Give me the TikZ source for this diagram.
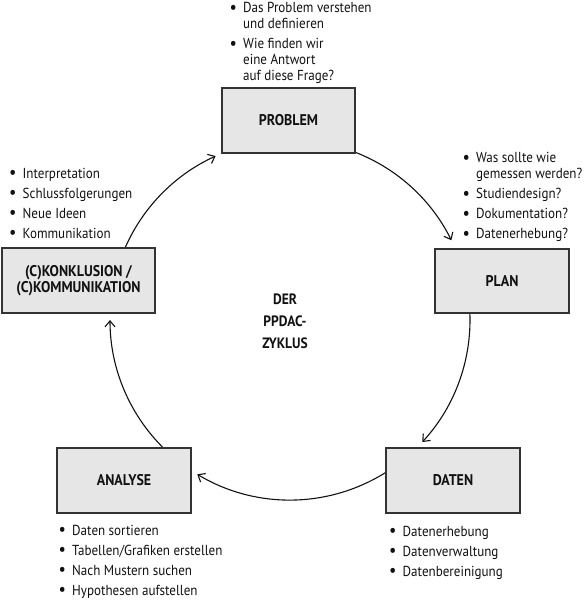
\documentclass[tikz,border=0pt]{standalone}
\usepackage{fontspec}
\setmainfont[FakeStretch=0.9]{PT Sans}
\usetikzlibrary{arrows.meta}
\definecolor{boxfill}{HTML}{E6E6E6}
\definecolor{boxline}{HTML}{333333}
\definecolor{ink}{HTML}{111111}
\newcommand\bitem[1]{\makebox[13.5pt][l]{\raisebox{-0.5pt}{\scalebox{1.25}{\textbullet}}}#1}
\newcommand\bcont[1]{\hspace*{13.5pt}#1}
\begin{document}
\begin{tikzpicture}[x=1pt,y=1pt,
  stage/.style={draw=boxline, fill=boxfill, line width=1.2pt, text=ink,
    font=\fontsize{15.5}{16}\selectfont\bfseries, align=center, inner sep=0pt},
  blist/.style={anchor=base west, inner sep=0pt, text=ink, font=\fontsize{14.5}{16}\selectfont},
  cyc/.style={draw=ink, line width=1.1pt, -{Straight Barb[length=6pt,width=10pt]}}]
\useasboundingbox (0,0) rectangle (584,-600);
\coordinate (O) at (290,-320);
\coordinate (a1) at ([shift={(158:180pt)}]O);
\coordinate (a2) at ([shift={(70:180pt)}]O);
\coordinate (a3) at ([shift={(4:180pt)}]O);
\coordinate (a4) at ([shift={(-56:180pt)}]O);
\coordinate (a5) at ([shift={(-133:180pt)}]O);
% cycle arcs
\draw[cyc] (a1) arc[start angle=158, end angle=114.4, radius=180pt];
\draw[cyc] (a2) arc[start angle=70, end angle=26.3, radius=180pt];
\draw[cyc] (a3) arc[start angle=4, end angle=-42.7, radius=180pt];
\draw[cyc] (a4) arc[start angle=-56, end angle=-121, radius=180pt];
\draw[cyc] (a5) arc[start angle=-133, end angle=-180, radius=180pt];
% stage boxes
\node[stage, minimum width=133pt, minimum height=65pt] (problem) at (288.5,-120.5) {PROBLEM};
\node[stage, minimum width=134pt, minimum height=64pt] (plan) at (502,-281) {PLAN};
\node[stage, minimum width=134pt, minimum height=65pt] (daten) at (453,-480.5) {DATEN};
\node[stage, minimum width=134pt, minimum height=65pt] (analyse) at (124,-480.5) {ANALYSE};
\node[stage, minimum width=153pt, minimum height=65pt] (konkl) at (78.5,-280.5) {(C)KONKLUSION /\\(C)KOMMUNIKATION};
% centre title
\node[anchor=base, inner sep=0pt, text=ink, font=\fontsize{15}{16}\selectfont\bfseries] (title) at (285,-304)
  {\begin{tabular}[t]{@{}c@{}}DER\\[6.5pt]PPDAC-\\[6pt]ZYKLUS\end{tabular}};
% lists
\node[blist] (lproblem) at (229.5,-12.7) {\begin{tabular}[t]{@{}l@{}}
  \bitem{Das Problem verstehen}\\ \bcont{und definieren}\\[4pt]
  \bitem{Wie finden wir}\\ \bcont{eine Antwort}\\ \bcont{auf diese Frage?}\end{tabular}};
\node[blist] (lplan) at (462.5,-162.5) {\begin{tabular}[t]{@{}l@{}}
  \bitem{Was sollte wie}\\ \bcont{gemessen werden?}\\[4pt]
  \bitem{Studiendesign?}\\[4pt] \bitem{Dokumentation?}\\[4pt] \bitem{Datenerhebung?}\end{tabular}};
\node[blist] (lkonkl) at (9,-178) {\begin{tabular}[t]{@{}l@{}}
  \bitem{Interpretation}\\[4pt] \bitem{Schlussfolgerungen}\\[4pt]
  \bitem{Neue Ideen}\\[4pt] \bitem{Kommunikation}\end{tabular}};
\node[blist] (lanalyse) at (58.5,-535) {\begin{tabular}[t]{@{}l@{}}
  \bitem{Daten sortieren}\\[4pt] \bitem{Tabellen/Grafiken erstellen}\\[4pt]
  \bitem{Nach Mustern suchen}\\[4pt] \bitem{Hypothesen aufstellen}\end{tabular}};
\node[blist] (ldaten) at (389,-536) {\begin{tabular}[t]{@{}l@{}}
  \bitem{Datenerhebung}\\[4pt] \bitem{Datenverwaltung}\\[4pt]
  \bitem{Datenbereinigung}\end{tabular}};
\end{tikzpicture}
\end{document}
